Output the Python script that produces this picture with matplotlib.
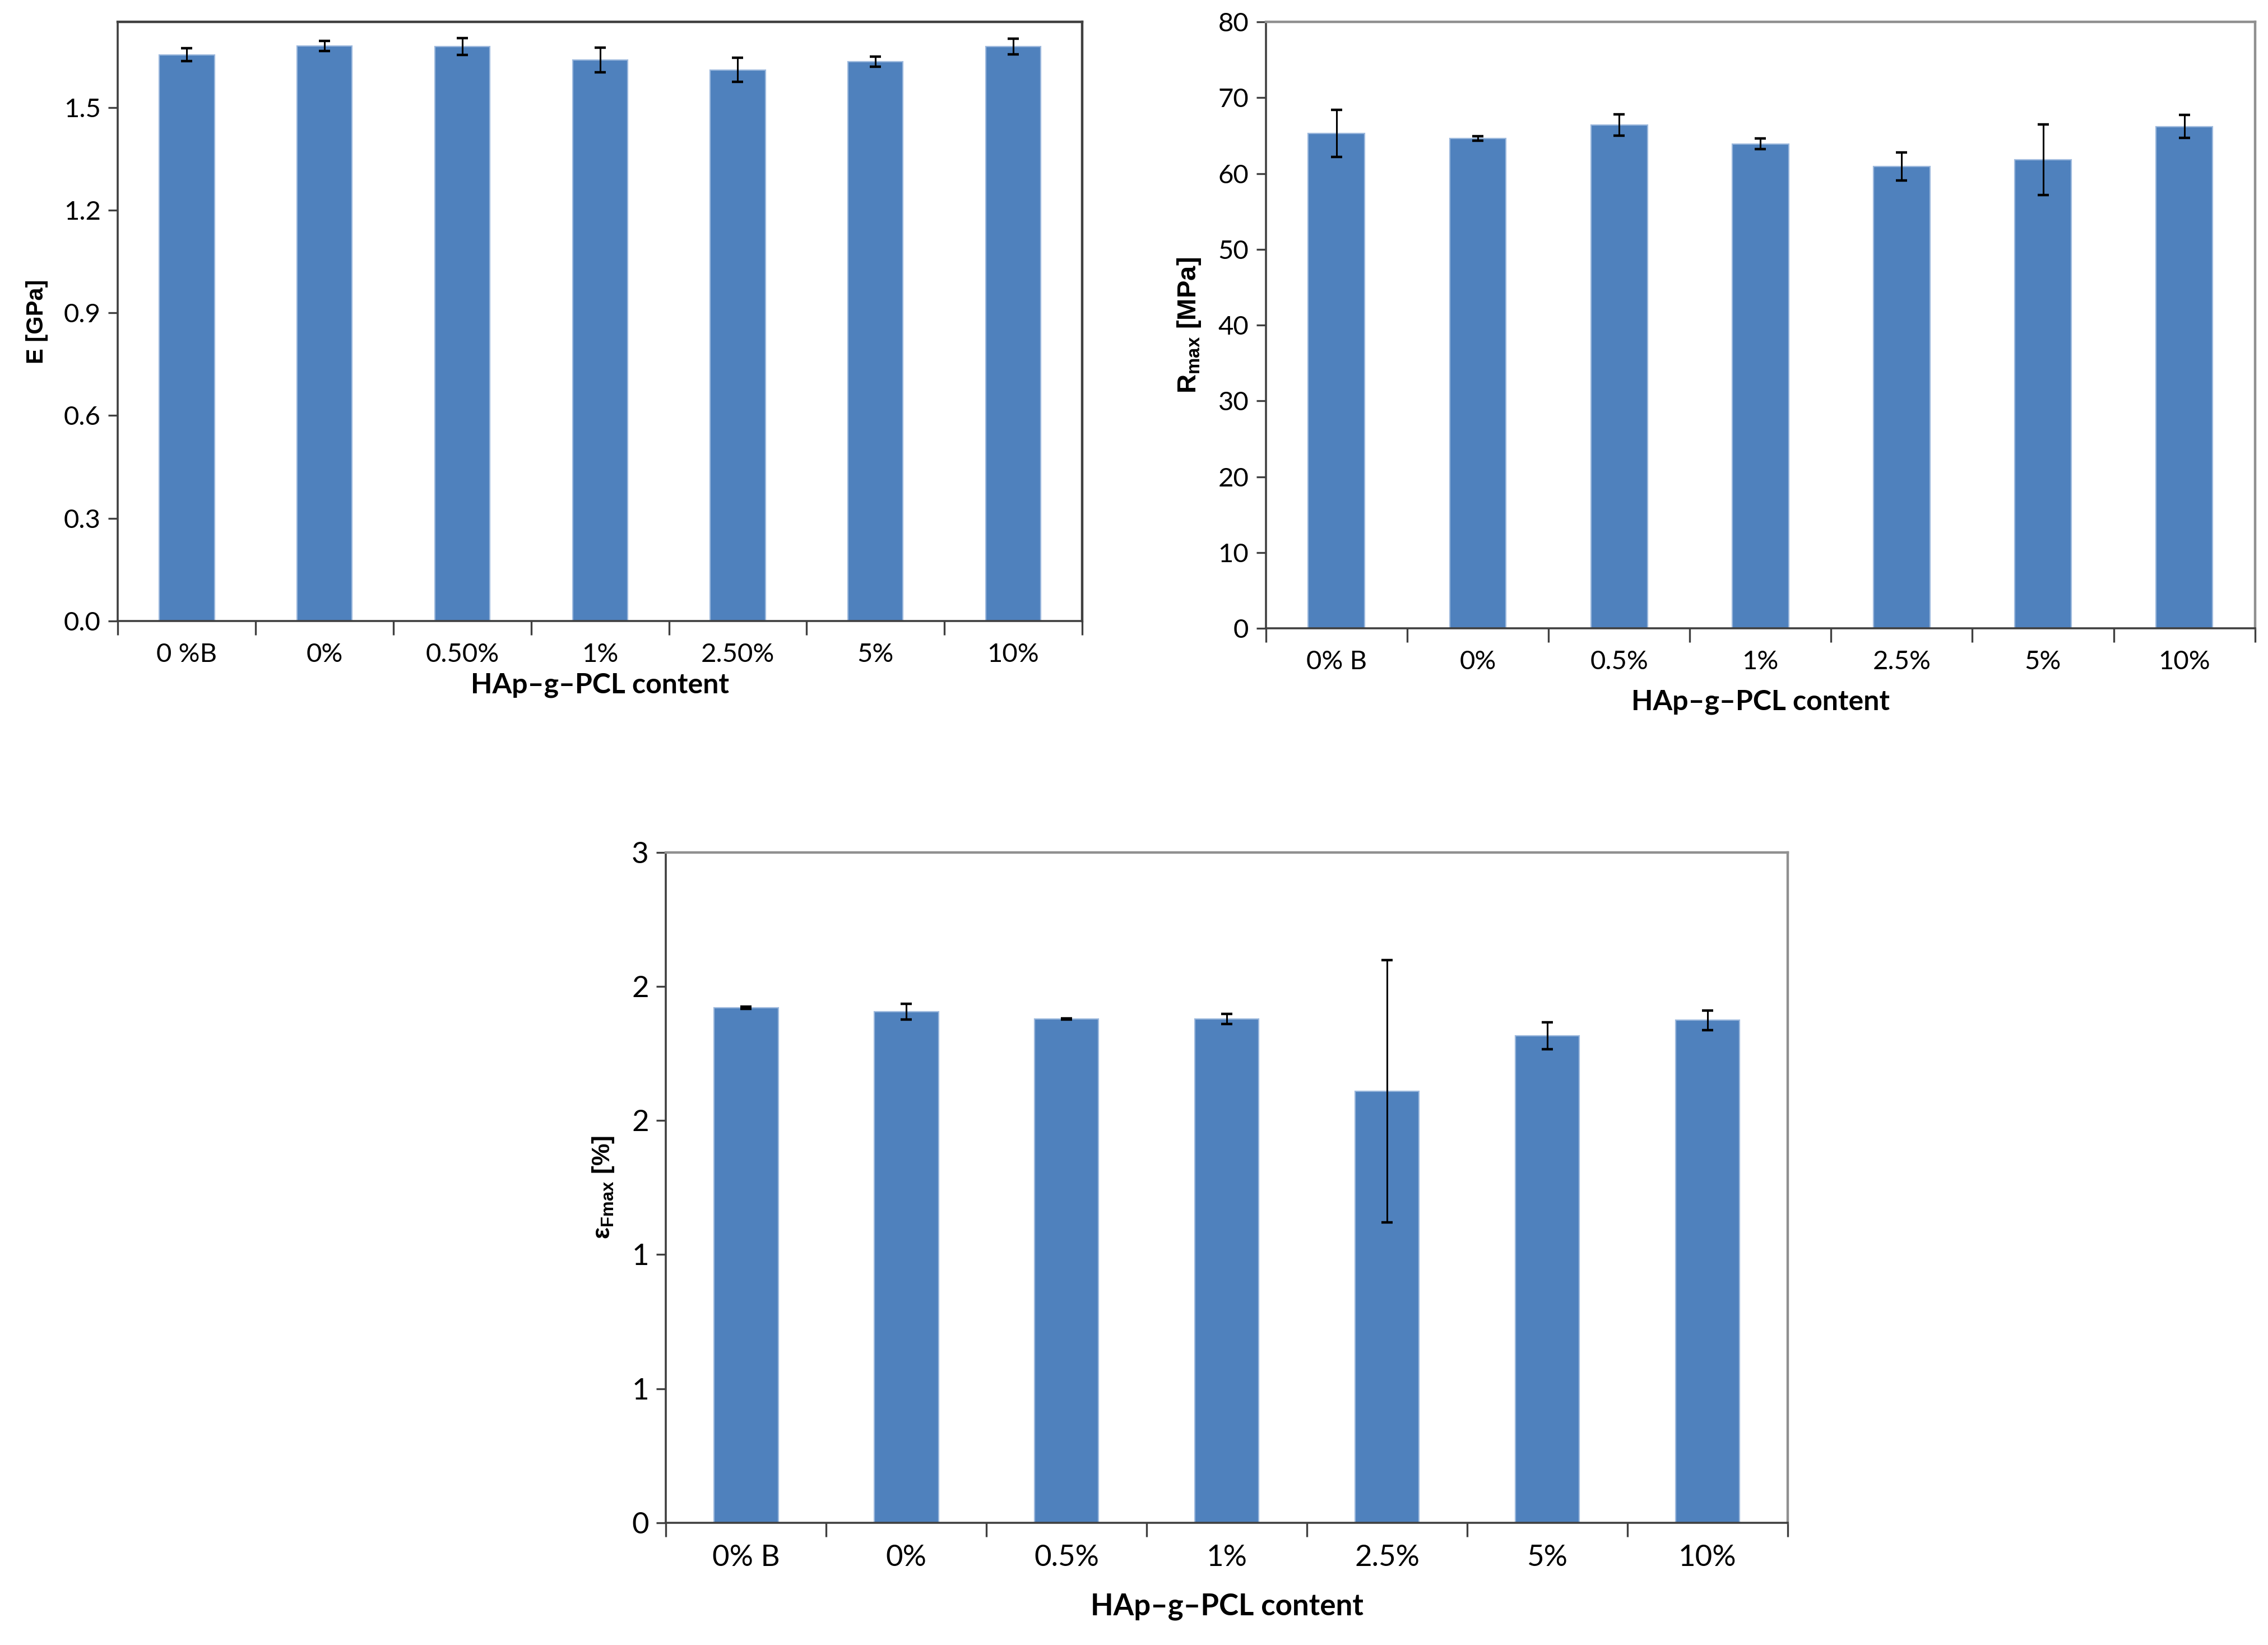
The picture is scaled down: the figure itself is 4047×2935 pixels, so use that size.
import matplotlib
matplotlib.use("Agg")
import matplotlib.pyplot as plt
import numpy as np

plt.rcParams['font.family'] = ['Lato', 'DejaVu Sans']
plt.rcParams['mathtext.fontset'] = 'custom'
plt.rcParams['mathtext.rm'] = 'Liberation Sans'
plt.rcParams['mathtext.bf'] = 'Liberation Sans:bold'

labels_e = ["0 %B", "0%", "0.50%", "1%", "2.50%", "5%", "10%"]
labels = ["0% B", "0%", "0.5%", "1%", "2.5%", "5%", "10%"]

# Young's modulus [GPa]
e_mod = [1.654, 1.680, 1.678, 1.638, 1.610, 1.634, 1.678]
e_err = [0.019, 0.015, 0.025, 0.036, 0.035, 0.015, 0.023]

# max strength [MPa]
r_max = [65.3, 64.6, 66.4, 63.9, 60.9, 61.8, 66.2]
r_err = [3.1, 0.3, 1.4, 0.7, 1.85, 4.65, 1.5]

# strain at Fmax [%]
eps = [2.304, 2.287, 2.254, 2.254, 1.931, 2.179, 2.249]
eps_err = [0.005, 0.035, 0.003, 0.022, 0.587, 0.059, 0.044]
eps_ticks = [0, 0.6, 1.2, 1.8, 2.4, 3.0]
eps_ticklabels = ["0", "1", "1", "2", "2", "3"]

bar_col = "#4F81BD"

fig = plt.figure(figsize=(20.24, 14.675), dpi=200)


def bar_panel(rect, vals, errs, xlabels, ylim, yticks, yticklabels, ylabel,
              fs_tick, fs_xlab, fs_ylab, top_col, xpad):
    ax = fig.add_axes(rect)
    x = np.arange(len(vals))
    ax.bar(x, vals, width=0.4, color=bar_col, edgecolor="#9DB9DD", linewidth=0.8, zorder=2)
    ax.errorbar(x, vals, yerr=errs, fmt="none", ecolor="black", elinewidth=1.1,
                capsize=3.5, capthick=1.6, zorder=3)
    ax.set_xlim(-0.5, len(vals) - 0.5)
    ax.set_ylim(*ylim)
    ax.set_xticks(np.arange(len(vals) + 1) - 0.5)
    ax.set_xticklabels([])
    ax.set_xticks(x, minor=True)
    ax.set_xticklabels(xlabels, minor=True, fontsize=fs_tick)
    ax.tick_params(axis="x", which="major", direction="out", length=9, width=1.2, color="#404040")
    ax.tick_params(axis="x", which="minor", length=0, pad=14)
    ax.set_yticks(yticks)
    ax.set_yticklabels(yticklabels, fontsize=fs_tick)
    ax.tick_params(axis="y", direction="out", length=6, width=1.2, color="#404040", pad=5)
    for s in ["left", "bottom"]:
        ax.spines[s].set_color("#404040")
        ax.spines[s].set_linewidth(1.3)
    for s in ["top", "right"]:
        ax.spines[s].set_color(top_col)
        ax.spines[s].set_linewidth(1.6)
    ax.set_xlabel("HAp\u2013g\u2013PCL content", fontsize=fs_xlab, fontweight="bold",
                  labelpad=xpad)
    ax.set_ylabel(ylabel, fontsize=fs_ylab, fontweight="bold",
                  family=["Liberation Sans", "DejaVu Sans"], labelpad=10)
    return ax


bar_panel([0.052, 0.6225, 0.425, 0.3642], e_mod, e_err, labels_e, (0, 1.75),
          [0, 0.3, 0.6, 0.9, 1.2, 1.5], ["0.0", "0.3", "0.6", "0.9", "1.2", "1.5"],
          "E [GPa]", 17, 18, 15, "#404040", 4)

bar_panel([0.558, 0.618, 0.436, 0.3687], r_max, r_err, labels, (0, 80),
          list(range(0, 81, 10)), [str(v) for v in range(0, 81, 10)],
          r"R$_{\mathbf{max}}$ [MPa]", 17, 18, 17, "#909090", 10)

bar_panel([0.2936, 0.0743, 0.4944, 0.4076], eps, eps_err, labels, (0, 3.0),
          eps_ticks, eps_ticklabels,
          "\u03b5$_{\\mathbf{Fmax}}$ [%]", 19, 19, 16, "#909090", 14)

fig.savefig("out.png", dpi=200)
